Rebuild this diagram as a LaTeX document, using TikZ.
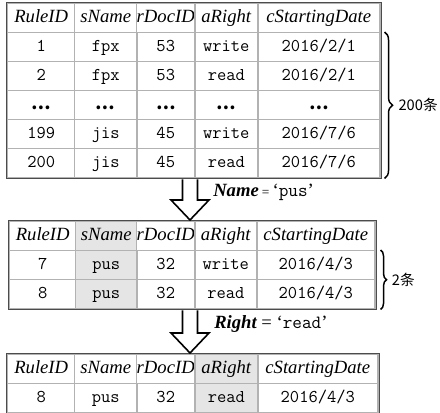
\documentclass[tikz,border=0pt]{standalone}
\usepackage{fontspec}
\setmainfont{Liberation Serif}
\newfontfamily\cjk{Noto Sans CJK SC}
\usetikzlibrary{matrix,calc,decorations.pathreplacing}
\newcommand{\hdfont}{\fontsize{14}{16}\selectfont\itshape}
\newcommand{\dtfont}{\fontsize{13.5}{16}\selectfont\ttfamily}
\newcommand{\rowgap}{{\cjk\bfseries\fontsize{13}{15}\selectfont …}}
% hollow block arrow pointing down: #1 top of shaft, #2 tip
\newcommand{\hollowdown}[2]{%
  \draw[blk] let \p1=(#1), \p2=(#2) in
    (\x1-5.6pt,\y1) -- (\x1-5.6pt,\y2+15pt) -- (\x1-14.25pt,\y2+15pt)
    -- (\x1,\y2) -- (\x1+14.25pt,\y2+15pt) -- (\x1+5.6pt,\y2+15pt)
    -- (\x1+5.6pt,\y1);}

\begin{document}
\begin{tikzpicture}[x=0.75pt, y=-0.75pt,
  cell/.style={draw=gray!60, line width=1.1pt, inner sep=0pt,
               text height=10pt, text depth=3pt,
               minimum height=29*0.75pt, font=\dtfont},
  tbl/.style n args={5}{matrix of nodes, anchor=north west, nodes={cell},
               draw=black!70, line width=1.5pt, inner sep=0pt,
               column sep=-1.1pt, row sep=-1.1pt,
               row 1/.style={nodes={font=\hdfont}},
               column 1/.style={nodes={minimum width=#1*0.75pt}},
               column 2/.style={nodes={minimum width=#2*0.75pt}},
               column 3/.style={nodes={minimum width=#3*0.75pt}},
               column 4/.style={nodes={minimum width=#4*0.75pt}},
               column 5/.style={nodes={minimum width=#5*0.75pt}}},
  shade/.style={fill=gray!20},
  blk/.style={draw, fill=white, line width=1.2pt, line join=miter},
  brc/.style={decorate, decoration={brace, amplitude=#1}, line width=1.1pt},
  lbl/.style={font=\fontsize{14}{16}\selectfont, anchor=west, inner sep=0pt},
  cnt/.style={font=\cjk\fontsize{11}{13}\selectfont, inner sep=0pt}
]
  \useasboundingbox (0,0) rectangle (440,413);

  % full rule table
  \matrix[tbl={67}{62}{57}{63}{122}] (t1) at (6,2) {
    RuleID & sName & rDocID & aRight & cStartingDate \\
    1 & fpx & 53 & write & 2016/2/1 \\
    2 & fpx & 53 & read & 2016/2/1 \\
    \rowgap & \rowgap & \rowgap & \rowgap & \rowgap \\
    199 & jis & 45 & write & 2016/7/6 \\
    200 & jis & 45 & read & 2016/7/6 \\
  };

  % after selecting on sName
  \matrix[tbl={66}{61}{57}{62}{118}] (t2) at (8,220) {
    RuleID & |[shade]| sName & rDocID & aRight & cStartingDate \\
    7 & |[shade]| pus & 32 & write & 2016/4/3 \\
    8 & |[shade]| pus & 32 & read & 2016/4/3 \\
  };

  % after selecting on aRight
  \matrix[tbl={67}{62}{57}{63}{120}] (t3) at (6,353) {
    RuleID & sName & rDocID & |[shade]| aRight & cStartingDate \\
    8 & pus & 32 & |[shade]| read & 2016/4/3 \\
  };

  % selection steps
  \coordinate (a1top) at ($(t1.south west)+(184,0)$);
  \coordinate (a1tip) at ($(t2.north west)+(182,0)$);
  \coordinate (a2top) at ($(t2.south west)+(182,0)$);
  \coordinate (a2tip) at ($(t3.north west)+(184,0)$);
  \hollowdown{a1top}{a1tip}
  \hollowdown{a2top}{a2tip}
  \node[lbl] (c1) at (213,192) {{\bfseries\itshape Name}\,{\fontsize{10}{12}\selectfont=}\,‘{\ttfamily pus}’};
  \node[lbl] (c2) at (214,324) {{\bfseries\itshape Right} = ‘{\ttfamily read}’};

  % row counts
  \draw[brc=6pt] ($(t1-2-5.north east)+(4,0)$) -- ($(t1-6-5.south east)+(4,0)$)
    node[cnt, midway, right=10pt] {200条};
  \draw[brc=4.5pt] ($(t2-2-5.north east)+(5,0)$) -- ($(t2-3-5.south east)+(5,0)$)
    node[cnt, midway, right=8pt] {2条};
\end{tikzpicture}
\end{document}
